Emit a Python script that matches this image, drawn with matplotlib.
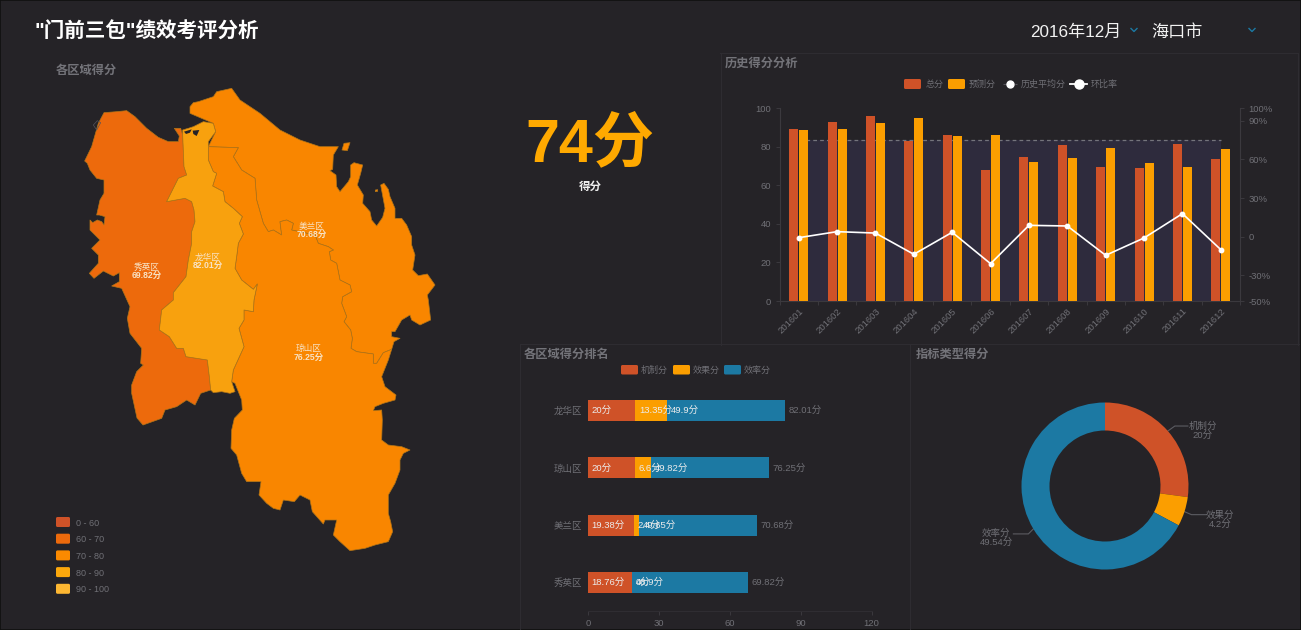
import numpy as np
import matplotlib
matplotlib.use("Agg")
import matplotlib.pyplot as plt
from matplotlib.patches import Polygon, FancyBboxPatch, Rectangle

plt.rcParams['font.family'] = ['Liberation Sans', 'Noto Sans CJK SC', 'DejaVu Sans']

# ---------- data ----------
MONTHS = ['201601', '201602', '201603', '201604', '201605', '201606',
          '201607', '201608', '201609', '201610', '201611', '201612']
TOTAL = [89, 93, 96, 83, 86, 68, 74.5, 81, 69.5, 69, 81.5, 73.5]
FORECAST = [88.5, 89, 92, 95, 85.5, 86, 72, 74, 79.5, 71.5, 69.5, 79]
RATIO = [-0.8, 3.9, 2.8, -13.7, 3.4, -21, 8.8, 8.3, -14.5, -1, 17.9, -10.1]
HIST_AVG = 83.5
LEFT_TICKS = [0, 20, 40, 60, 80, 100]
RIGHT_TICKS = [-50, -30, 0, 30, 60, 90, 100]
RIGHT_LABELS = ['-50%', '-30%', '0', '30%', '60%', '90%', '100%']

DISTRICTS = ['龙华区', '琼山区', '美兰区', '秀英区']
MECH = [20, 20, 19.38, 18.76]
EFFECT = [13.35, 6.6, 2.4, 0]
EFFIC = [49.9, 49.82, 49.65, 48.9]
SCORES = [82.01, 76.25, 70.68, 69.82]
RANK_TICKS = [0, 30, 60, 90, 120]

DONUT_NAMES = ['机制分', '效果分', '效率分']
DONUT_VALUES = [20, 4.2, 49.54]

LEGEND_RANGES = ['0 - 60', '60 - 70', '70 - 80', '80 - 90', '90 - 100']
RANGE_COLORS = ['#cf5228', '#ed6a0c', '#fb8a00', '#fca80c', '#fdb732']

# map outlines, traced from enlarged crops of the map, scale 3
# (Z: origin 60,80; S: origin 40,320; W: origin 80,100; E: origin 320,130; B: origin 225,380)
XY_NORTH_W = [(72,38),(110,35),(140,32),(165,50),(200,85),(235,112),(265,125),(295,125),(298,108),(283,85),(302,85)]
XL_W = [(308,105),(312,200),(320,225),(295,235),(275,275),(260,305),(315,295),(335,305),(342,330),(345,365),
        (335,395),(335,430),(325,480),(318,530),(280,578),(280,600),(245,630),(238,690),(268,710),(290,745),
        (310,745),(318,770),(350,775),(382,780),(388,830),(392,870)]
XY_SOUTH_W = [(362,880),(345,915),(320,900),(290,920),(255,930),(245,955),(189,975),(171,954),(155,880),(155,855),
              (170,815),(190,795),(182,790),(185,745),(150,700),(142,655),(150,620),(125,565),(95,558),(118,545),
              (118,518),(100,528),(70,513),(42,535),(28,520),(55,490),(55,465),(35,445),(60,420),(30,390),(30,360),
              (38,368),(52,360),(65,365),(72,375),(75,350),(58,345),(50,345),(60,300),(72,280),(72,240),(50,235),
              (30,210),(22,190),(14,183),(35,140),(45,105),(55,70)]
ISLET_W = [(40,75),(52,62),(62,68),(50,90)]
LH_NORTH_Z = [(368,150),(400,140),(430,125),(460,130),(467,155),(445,185)]
LQ_Z = [(445,200),(445,240),(460,275),(470,280),(458,318),(490,335),(495,365),(520,385),(547,410),
        (538,430),(550,462),(535,490),(530,530),(525,565),(545,600),(580,628),(592,612),(582,660),
        (580,695),(552,690),(552,720)]
LQ_S = [(597,25),(612,80),(580,150),(575,185)]
LH_SOUTH_S = [(585,215),(570,220),(545,215),(520,218)]
ML_Z = [(535,203),(520,230),(545,270),(585,295),(590,360),(610,430),(625,455),(640,450),(665,465),
        (660,425),(680,420),(700,430),(695,450),(765,465),(775,490)]
ML_E = [(25,350),(40,360),(28,365),(32,390),(50,400),(60,450),(90,465),(95,485),(68,500),(65,520),(80,560),
        (72,575),(92,600),(97,625),(93,655),(110,665),(160,672),(160,700),(170,700),(190,668),(215,658)]
QS_COAST_E = [(205,690),(185,740),(195,770),(228,795),(225,810),(190,820),(165,830),(160,842),(185,840),(187,870)]
QS_COAST_B = [(470,180),(490,195),(530,200),(555,210),(535,220),(525,240),(525,270),(510,310),(490,345),(490,400),
              (497,425),(503,455),(490,485),(450,495),(420,505),(375,512),(345,485),(325,465),(335,420),(300,420),
              (295,432),(262,395),(255,360),(225,345),(208,365),(175,360),(165,390),(145,385),(125,370),(102,345),
              (108,305),(65,305),(50,280),(35,225),(18,205),(20,150),(28,115),(52,90),(50,60),(38,30),(30,10)]
MEI_NORTH_Z = [(390,80),(400,68),(415,65),(460,50),(470,35),(515,25),(540,60),(600,100),(660,150),(720,180),
               (780,200),(835,200)]
MEI_EAST_E = [(40,75),(38,118),(30,122),(48,135),(50,170),(60,185),(85,155),(92,140),(92,105),(102,98),(128,105),
              (122,130),(112,165),(130,195),(128,220),(150,245),(155,270),(170,288),(188,262),(195,235),(182,165),
              (192,160),(205,178),(210,200),(225,235),(225,265),(245,265),(260,285),(275,320),(275,345),(285,375),
              (278,420),(295,437),(322,432),(345,465),(322,495),(325,510),(332,570),(300,585),(275,570),(270,555),
              (245,570),(225,605),(215,605),(215,620),(240,625),(222,635)]
MEI_WEST_Z = [(467,155),(460,130),(425,115),(390,100)]
ISLAND_E = [(72,40),(90,38),(82,62),(66,60)]
ISLET_E = [(166,180),(173,179),(173,184),(166,185)]
BAY_Z = [[(372,155),(395,148),(390,158),(378,162)], [(398,152),(418,150),(410,168),(400,162)],
         [(372,138),(390,134),(388,142),(374,144)]]
MAP_LABELS = [('秀英区', '69.82分', 147, 266), ('龙华区', '82.01分', 208, 256),
              ('美兰区', '70.68分', 312, 225), ('琼山区', '76.25分', 309, 348)]

# ---------- colours ----------
BG = '#252327'
AXIS = '#3b393e'
TICK = '#707076'
TITLE = '#737379'
RED = '#cf5228'
ORANGE = '#fb9e00'
BLUE = '#1c79a3'
W, H = 1301, 630


def crop(ox, oy):
    return lambda pts: [(ox + x / 3, oy + y / 3) for x, y in pts]


cz, cs, cw, ce, cb = crop(60, 80), crop(40, 320), crop(80, 100), crop(320, 130), crop(225, 380)


def axes_px(fig, l, t, r, b):
    return fig.add_axes([l / W, 1 - b / H, (r - l) / W, (b - t) / H])


fig = plt.figure(figsize=(W / 100, H / 100), dpi=100, facecolor=BG)
ov = fig.add_axes([0, 0, 1, 1], zorder=0)
ov.set_xlim(0, W)
ov.set_ylim(H, 0)
ov.axis('off')

# frame and panel lines
ov.add_patch(Rectangle((0, 0), W, H, fill=False, ec='#101010', lw=1.2))
for xs, ys in [((721, 721), (53, 345)), ((720, 1298), (53, 53)), ((520, 1299), (344, 344)),
               ((520, 520), (345, 630)), ((910, 910), (345, 630)), ((1298, 1298), (53, 345))]:
    ov.plot(xs, ys, color='#2e2c31', lw=0.8)

# header
ov.text(35, 31, '"门前三包"绩效考评分析', color='white', fontsize=14.8, fontweight='bold', va='center')
ov.text(1030, 31, '2016年12月', color='#f2f2f2', fontsize=12.3, va='center')
ov.text(1151, 31, '海口市', color='#f2f2f2', fontsize=12.3, va='center')
for cx in (1134, 1252):
    ov.plot([cx - 3, cx, cx + 3], [28.5, 31.5, 28.5], color=BLUE, lw=1)

for txt, x, y in [('各区域得分', 56, 70), ('历史得分分析', 725, 63),
                  ('各区域得分排名', 524, 354), ('指标类型得分', 916, 354)]:
    ov.text(x, y, txt, color=TITLE, fontsize=8.8, fontweight='bold', va='center')

# big number
ov.text(590, 145, '74分', color='#ffa900', fontsize=44, fontweight='bold', ha='center', va='center')
ov.text(590, 186, '得分', color='#f0f0f0', fontsize=8.3, fontweight='bold', ha='center', va='center')

# map
XIUYING = cw(XY_NORTH_W) + cw(XL_W) + cw(XY_SOUTH_W)
LONGHUA = cw(XL_W[:1]) + cz(LH_NORTH_Z) + cz(LQ_Z) + cs(LQ_S) + cs(LH_SOUTH_S) + cw(XL_W[::-1])
QIONGSHAN = cz(LQ_Z[:1]) + cz(ML_Z) + ce(ML_E) + ce(QS_COAST_E) + cb(QS_COAST_B) + cs(LQ_S[::-1]) + cz(LQ_Z[::-1])
MEILAN = cz(MEI_NORTH_Z) + ce(MEI_EAST_E) + ce(ML_E[::-1]) + cz(ML_Z[::-1]) + cz(LQ_Z[:1]) + cz(MEI_WEST_Z)
EDGE = '#b07418'
for poly, col in [(XIUYING, RANGE_COLORS[1]), (MEILAN, '#f98600'), (QIONGSHAN, '#f98600'),
                  (LONGHUA, '#f8a10e'), (ce(ISLAND_E), '#f98600'), (ce(ISLET_E), '#f98600')]:
    ov.add_patch(Polygon(poly, closed=True, fc=col, ec=EDGE, lw=0.5, joinstyle='round'))
for bay in BAY_Z:
    ov.add_patch(Polygon(cz(bay), closed=True, fc=BG, ec='none'))
ov.add_patch(Polygon(cw(ISLET_W), closed=True, fc='none', ec='#55535a', lw=0.5))
for name, val, x, y in MAP_LABELS:
    ov.text(x, y, name, color='#f8e3c6', fontsize=6.2, ha='center', va='center')
    ov.text(x, y + 8.5, val, color='#f8e3c6', fontsize=6.2, fontweight='bold', ha='center', va='center')


def swatch(x, y, w, h, col):
    ov.add_patch(FancyBboxPatch((x + 1.5, y + 1.5), w - 3, h - 3, boxstyle='round,pad=1.5',
                                fc=col, ec='none'))


# map legend
for i, (lab, col) in enumerate(zip(LEGEND_RANGES, RANGE_COLORS)):
    cy = 522 + i * 16.7
    swatch(56, cy - 5, 14, 10, col)
    ov.text(76, cy, lab, color=TICK, fontsize=6.5, va='center')

# history legend
swatch(904, 79, 17, 10, RED)
ov.text(926, 83.5, '总分', color=TICK, fontsize=6.5, va='center')
swatch(948, 79, 17, 10, ORANGE)
ov.text(969, 83.5, '预测分', color=TICK, fontsize=6.5, va='center')
ov.plot([1003, 1017], [83.5, 83.5], color='#55535a', lw=0.8, ls='--')
ov.plot([1010], [83.5], 'o', color='white', ms=5)
ov.text(1021, 83.5, '历史平均分', color=TICK, fontsize=6.5, va='center')
ov.plot([1070, 1087], [83.5, 83.5], color='white', lw=1.3)
ov.plot([1079], [83.5], 'o', color='white', ms=6.5)
ov.text(1091, 83.5, '环比率', color=TICK, fontsize=6.5, va='center')

# rank legend
for x, tx, lab, col in [(621, 641, '机制分', RED), (673, 693, '效果分', ORANGE), (724, 744, '效率分', BLUE)]:
    swatch(x, 365, 17, 9.5, col)
    ov.text(tx, 369.5, lab, color=TICK, fontsize=6.5, va='center')


def style(ax):
    ax.set_facecolor('none')
    for s in ax.spines.values():
        s.set_color(AXIS)
        s.set_linewidth(0.8)
    ax.tick_params(colors=TICK, labelsize=6.8, length=3, width=0.7, color=AXIS, pad=3)


# history chart
ax = axes_px(fig, 779.5, 108, 1240, 301)
style(ax)
pos = np.arange(len(MONTHS)) + 0.5
ax.set_xlim(0, len(MONTHS))
ax.set_ylim(0, 100)
ax.fill_between([pos[0], pos[-1]], 0, HIST_AVG, color='#2e2b3d', lw=0, zorder=1)
ax.plot([pos[0], pos[-1]], [HIST_AVG, HIST_AVG], color='#74747c', lw=0.9, ls=(0, (3, 2.5)), zorder=2)
ax.bar(pos - 0.13, TOTAL, 0.235, color=RED, zorder=3)
ax.bar(pos + 0.13, FORECAST, 0.235, color=ORANGE, zorder=3)
ax.set_xticks(np.arange(len(MONTHS) + 1), minor=False)
ax.set_xticklabels([''] * (len(MONTHS) + 1))
ax.set_xticks(pos, minor=True)
ax.set_xticklabels(MONTHS, minor=True, rotation=45, ha='right', rotation_mode='anchor')
ax.tick_params(axis='x', which='minor', length=0, labelsize=6.8, labelcolor=TICK, pad=4)
ax.set_yticks(LEFT_TICKS)
ax.spines['top'].set_visible(False)
ax.spines['right'].set_visible(False)
ax2 = ax.twinx()
style(ax2)
ax2.set_ylim(-50, 100)
ax2.set_yticks(RIGHT_TICKS)
ax2.set_yticklabels(RIGHT_LABELS)
ax2.spines['top'].set_visible(False)
ax2.spines['left'].set_visible(False)
ax2.spines['bottom'].set_visible(False)
ax2.plot(pos, RATIO, color='white', lw=1.2, marker='o', ms=3.2, zorder=5)

# rank chart
rx = axes_px(fig, 588, 382, 871.5, 611)
style(rx)
ry = np.arange(len(DISTRICTS))
rx.set_xlim(0, 120)
rx.set_ylim(len(DISTRICTS) - 0.5, -0.5)
m, e, f = np.array(MECH), np.array(EFFECT), np.array(EFFIC)
rx.barh(ry, m, 0.367, color=RED, zorder=2)
rx.barh(ry, e, 0.367, left=m, color=ORANGE, zorder=2)
rx.barh(ry, f, 0.367, left=m + e, color=BLUE, zorder=2)
for i in ry:
    for val, left in [(m[i], 0), (e[i], m[i]), (f[i], m[i] + e[i])]:
        rx.annotate(f'{val:g}分', (left, i), xytext=(2.6, 0), textcoords='offset points',
                    color='#ececec', fontsize=6.8, va='center', zorder=4)
    rx.annotate(f'{SCORES[i]:g}分', (m[i] + e[i] + f[i], i), xytext=(2.6, 0), textcoords='offset points',
                color=TICK, fontsize=6.8, va='center', zorder=4)
rx.set_yticks(ry)
rx.set_yticklabels(DISTRICTS)
rx.set_xticks(RANK_TICKS)
rx.tick_params(axis='y', length=0, pad=4)
rx.tick_params(axis='x', length=3, pad=3)
rx.spines['top'].set_visible(False)
rx.spines['right'].set_visible(False)
rx.spines['left'].set_visible(False)
rx.spines['bottom'].set_color('#2f2d32')

# donut
CX, CY, RO = 1105, 486, 83.5
dn = axes_px(fig, CX - RO, CY - RO, CX + RO, CY + RO)
dn.pie(DONUT_VALUES, colors=[RED, ORANGE, BLUE], startangle=90, counterclock=False, radius=1,
       wedgeprops=dict(width=1 - 55.5 / RO, lw=0), center=(0, 0))
dn.set_xlim(-1, 1)
dn.set_ylim(-1, 1)
dn.axis('off')
cum = np.cumsum([0] + DONUT_VALUES)
mids = (cum[:-1] + cum[1:]) / 2 / cum[-1] * 2 * np.pi
leaders = [((7, -5), 13, (1203, 425)), ((7, 3), 15, (1220, 514)), ((-5, 5), -15, (996, 532))]
for name, val, mid, (d, run, (tx, ty)) in zip(DONUT_NAMES, DONUT_VALUES, mids, leaders):
    px, py = CX + RO * np.sin(mid), CY - RO * np.cos(mid)
    ex, ey = px + d[0], py + d[1]
    ov.plot([px, ex, ex + run], [py, ey, ey], color='#5c5c62', lw=0.8)
    ov.text(tx, ty, name, color=TICK, fontsize=6.8, ha='center', va='center')
    ov.text(tx, ty + 9, f'{val:g}分', color=TICK, fontsize=6.8, ha='center', va='center')

# the small overlay labels sit about one pixel low in the reference
for t in ov.texts:
    x0, y0 = t.get_position()
    t.set_position((x0, y0 + 1))

fig.savefig('out.png', dpi=100, facecolor=BG)
